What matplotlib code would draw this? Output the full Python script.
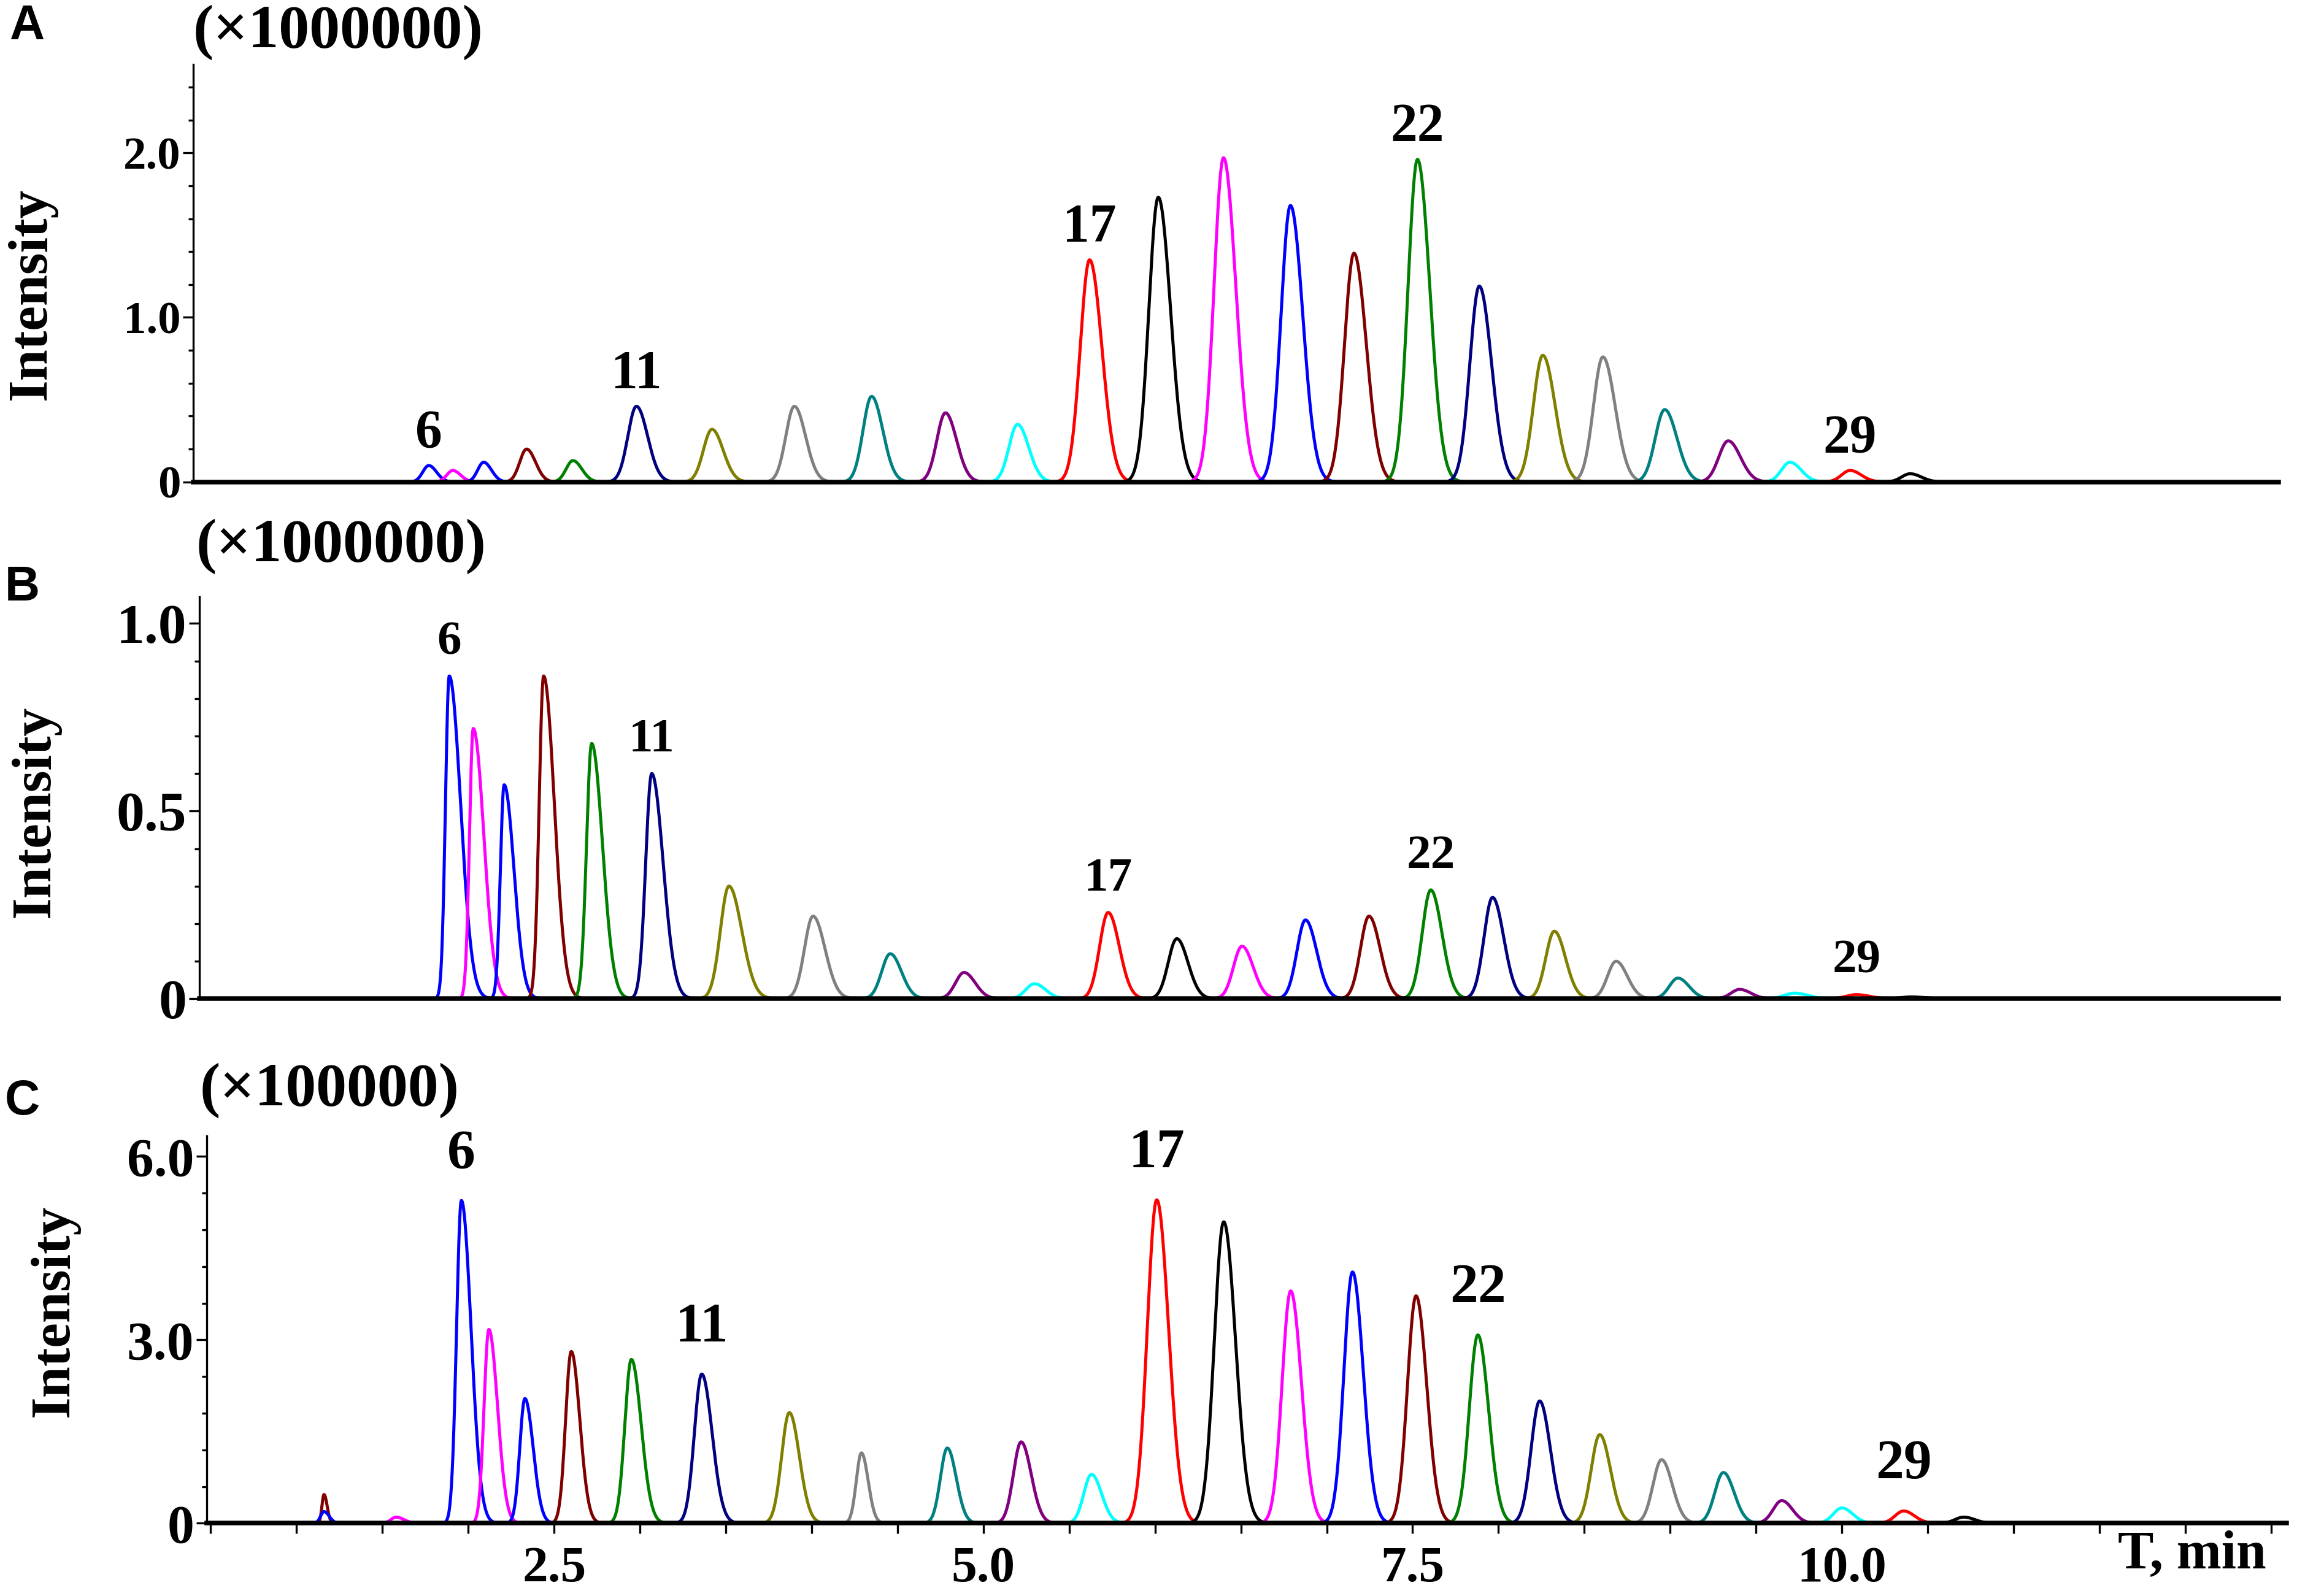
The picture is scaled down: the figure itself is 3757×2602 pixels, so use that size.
import numpy as np
import matplotlib.pyplot as plt
from matplotlib.ticker import FixedLocator, MultipleLocator, NullLocator

plt.rcParams['font.family'] = ['Liberation Serif', 'DejaVu Sans']
plt.rcParams['font.weight'] = 'bold'

# compounds 6..30, colour of each trace (same order in every panel)
compounds = list(range(6, 31))
labelled = [6, 11, 17, 22, 29]
colors = ['#0000ff', '#ff00ff', '#0000ff', '#800000', '#008000', '#000080',
          '#808000', '#808080', '#008080', '#800080', '#00ffff', '#ff0000',
          '#000000', '#ff00ff', '#0000ff', '#800000', '#008000', '#000080',
          '#808000', '#808080', '#008080', '#800080', '#00ffff', '#ff0000',
          '#000000']

# panel A  (x 1000000)
a_time = [1.77, 1.91, 2.09, 2.34, 2.61, 2.98, 3.42, 3.90, 4.35, 4.78, 5.20, 5.62,
          6.02, 6.40, 6.79, 7.16, 7.53, 7.89, 8.26, 8.61, 8.97, 9.34, 9.70, 10.05, 10.40]
a_height = [0.10, 0.07, 0.12, 0.20, 0.13, 0.46, 0.32, 0.46, 0.52, 0.42, 0.35, 1.35,
            1.73, 1.97, 1.68, 1.39, 1.96, 1.19, 0.77, 0.76, 0.44, 0.25, 0.12, 0.07, 0.05]
a_sigma = [0.035, 0.035, 0.035, 0.04, 0.04, 0.05, 0.05, 0.05, 0.05, 0.05, 0.05, 0.055,
           0.055, 0.055, 0.055, 0.055, 0.055, 0.055, 0.055, 0.055, 0.055, 0.055, 0.05, 0.05, 0.05]
a_tail = [1.3] * 25

# panel B  (x 1000000)
b_time = [1.89, 2.03, 2.21, 2.44, 2.72, 3.07, 3.52, 4.01, 4.46, 4.89, 5.30, 5.73,
          6.13, 6.51, 6.88, 7.25, 7.61, 7.97, 8.33, 8.69, 9.05, 9.41, 9.73, 10.09, 10.41]
b_height = [0.86, 0.72, 0.57, 0.86, 0.68, 0.60, 0.30, 0.22, 0.12, 0.07, 0.04, 0.23,
            0.16, 0.14, 0.21, 0.22, 0.29, 0.27, 0.18, 0.10, 0.055, 0.025, 0.015, 0.011, 0.005]
b_sigma = [0.022, 0.022, 0.022, 0.026, 0.03, 0.035, 0.05, 0.05, 0.05, 0.05, 0.05, 0.05,
           0.05, 0.05, 0.05, 0.05, 0.05, 0.05, 0.05, 0.05, 0.05, 0.05, 0.06, 0.06, 0.06]
b_tail = [3.0, 2.8, 2.6, 2.4, 2.1, 1.9, 1.5, 1.4, 1.3, 1.3, 1.3, 1.3,
          1.3, 1.3, 1.3, 1.3, 1.3, 1.3, 1.3, 1.3, 1.3, 1.3, 1.3, 1.3, 1.3]

# panel C  (x 100000)
c_time = [1.96, 2.12, 2.33, 2.60, 2.95, 3.36, 3.87, 4.29, 4.79, 5.22, 5.63, 6.01,
          6.40, 6.79, 7.15, 7.52, 7.88, 8.24, 8.59, 8.95, 9.31, 9.65, 10.00, 10.36, 10.71]
c_height = [5.28, 3.17, 2.04, 2.81, 2.68, 2.44, 1.81, 1.15, 1.23, 1.33, 0.80, 5.29,
            4.93, 3.80, 4.11, 3.72, 3.08, 2.00, 1.45, 1.04, 0.83, 0.37, 0.25, 0.20, 0.10]
c_sigma = [0.028, 0.028, 0.03, 0.033, 0.038, 0.043, 0.045, 0.03, 0.04, 0.045, 0.045, 0.055,
           0.055, 0.05, 0.05, 0.05, 0.05, 0.05, 0.05, 0.05, 0.05, 0.05, 0.05, 0.05, 0.05]
c_tail = [2.0, 1.8, 1.6, 1.5, 1.5, 1.4, 1.3, 1.3, 1.3, 1.3, 1.3, 1.25,
          1.25, 1.25, 1.25, 1.25, 1.25, 1.25, 1.25, 1.25, 1.25, 1.25, 1.25, 1.25, 1.25]
# small early bumps in C
c_extra_time = [1.16, 1.16, 1.58]
c_extra_height = [0.47, 0.19, 0.10]
c_extra_sigma = [0.012, 0.02, 0.03]
c_extra_color = ['#800000', '#0000ff', '#ff00ff']


def peak(t, t0, h, s, tail):
    s_arr = np.where(t < t0, s, s * tail)
    return h * np.exp(-0.5 * ((t - t0) / s_arr) ** 2)


def draw(ax, times, heights, sigmas, tails, cols, lw=1.2):
    for t0, h, s, k, c in zip(times, heights, sigmas, tails, cols):
        t = np.linspace(t0 - 0.45, t0 + 0.7, 500)
        ax.plot(t, peak(t, t0, h, s, k), color=c, lw=lw, clip_on=False,
                solid_joinstyle='round')


fig = plt.figure(figsize=(3757 / 300, 2602 / 300), dpi=300)

panels = [
    dict(rect=[0.0839, 0.6980, 0.9047, 0.2615], xlim=(0.399, 12.547), ylim=(0, 2.536),
         data=(a_time, a_height, a_sigma, a_tail), yt=[0, 1, 2], yl=['0', '1.0', '2.0'],
         yfs=18, minor=0.2, off=12.5, lfs=21),
    dict(rect=[0.0865, 0.3742, 0.9020, 0.2519], xlim=(0.434, 12.55), ylim=(0, 1.071),
         data=(b_time, b_height, b_sigma, b_tail), yt=[0, 0.5, 1.0], yl=['0', '0.5', '1.0'],
         yfs=22, minor=0.1, off=13, lfs=19),
    dict(rect=[0.0897, 0.0456, 0.9023, 0.2426], xlim=(0.477, 12.59), ylim=(0, 6.334),
         data=(c_time, c_height, c_sigma, c_tail), yt=[0, 3, 6], yl=['0', '3.0', '6.0'],
         yfs=21, minor=0.6, off=18, lfs=22),
]

for i, p in enumerate(panels):
    ax = fig.add_axes(p['rect'])
    times, heights, sigmas, tails = p['data']
    if i == 2:
        draw(ax, c_extra_time, c_extra_height, c_extra_sigma, [1.5, 1.5, 1.5], c_extra_color)
    draw(ax, times, heights, sigmas, tails, colors)
    ax.set_xlim(*p['xlim'])
    ax.set_ylim(*p['ylim'])
    for side in ['top', 'right']:
        ax.spines[side].set_visible(False)
    ax.spines['bottom'].set_linewidth(1.8)
    ax.spines['bottom'].set_zorder(3)
    ax.spines['left'].set_linewidth(0.8)
    ax.yaxis.set_major_locator(FixedLocator(p['yt']))
    ax.set_yticklabels(p['yl'], fontsize=p['yfs'], fontweight='bold')
    ax.yaxis.set_minor_locator(MultipleLocator(p['minor']))
    ax.tick_params(axis='y', which='major', direction='out', length=4, width=0.8, pad=1)
    ax.tick_params(axis='y', which='minor', direction='out', length=2, width=0.8)
    if i < 2:
        ax.xaxis.set_major_locator(NullLocator())
        ax.xaxis.set_minor_locator(NullLocator())
    else:
        ax.xaxis.set_major_locator(FixedLocator([2.5, 5.0, 7.5, 10.0]))
        ax.set_xticklabels(['2.5', '5.0', '7.5', '10.0'], fontsize=20, fontweight='bold')
        ax.xaxis.set_minor_locator(MultipleLocator(0.5))
        ax.tick_params(axis='x', which='both', direction='out', length=4, width=0.8, pad=5)
    for c, t0, h in zip(compounds, times, heights):
        if c in labelled:
            ax.annotate(str(c), xy=(t0, h), xytext=(0, p['off']), textcoords='offset points',
                        ha='center', va='center', fontsize=p['lfs'], fontweight='bold',
                        annotation_clip=False)

# multipliers, panel letters, axis titles
fig.text(0.1467, 0.9797, '(\u00d71000000)', ha='center', va='center', fontsize=24, fontweight='bold')
fig.text(0.1480, 0.6575, '(\u00d71000000)', ha='center', va='center', fontsize=24, fontweight='bold')
fig.text(0.1429, 0.3168, '(\u00d7100000)', ha='center', va='center', fontsize=24, fontweight='bold')

for x, y, s in [(0.0115, 0.9834, 'A'), (0.0096, 0.6317, 'B'), (0.0096, 0.3094, 'C')]:
    fig.text(x, y, s, ha='center', va='center', fontsize=19, fontweight='bold',
             family='Liberation Sans')

for x, y in [(0.0137, 0.8158), (0.0153, 0.4917), (0.0236, 0.1786)]:
    fig.text(x, y, 'Intensity', rotation=90, ha='center', va='center', fontsize=22,
             fontweight='bold')

fig.text(0.951, 0.0258, 'T, min', ha='center', va='center', fontsize=21, fontweight='bold')

fig.savefig('out.png', dpi=300, facecolor='white')
